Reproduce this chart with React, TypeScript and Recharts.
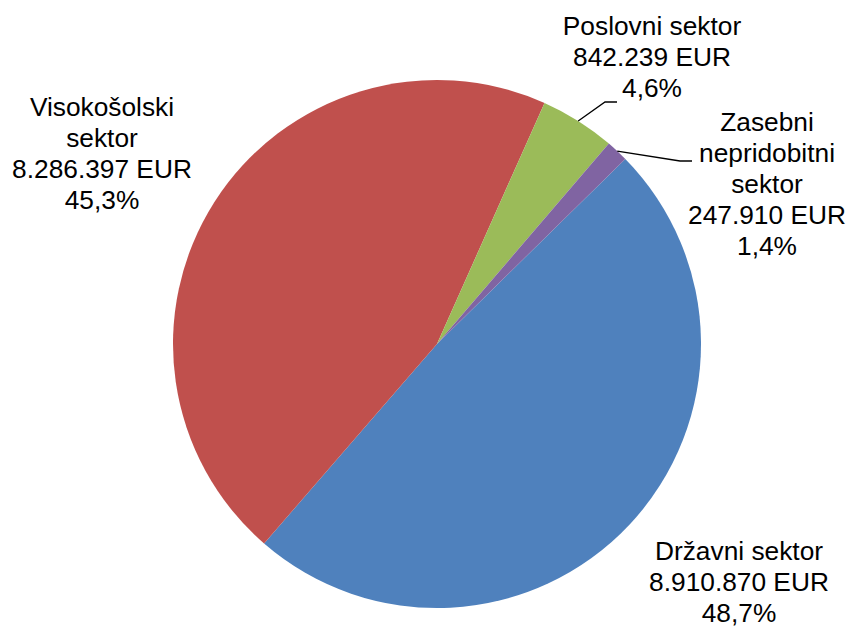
import { PieChart, Pie, Cell } from 'recharts';

const sectors = ['Državni sektor', 'Visokošolski sektor', 'Poslovni sektor', 'Zasebni nepridobitni sektor'];
const amounts = [8910870, 8286397, 842239, 247910];
const colors = ['#4F81BD', '#C0504D', '#9BBB59', '#8064A2'];

// label placement relative to pie centre (first baseline, centred text)
const labelLayout = [
  { dx: 302, dy: 216, wrap: false, line: null },
  { dx: -335, dy: -228, wrap: 'first', line: null },
  { dx: 215, dy: -309, wrap: false, line: [[168, -242], [180, -242]] },
  { dx: 330, dy: -213, wrap: 'all', line: [[243, -183], [255, -183]] },
];

const total = amounts.reduce((s, v) => s + v, 0);
const data = sectors.map((name, i) => ({ name, value: amounts[i] }));

const fmtEur = (v: number) => String(v).replace(/\B(?=(\d{3})+(?!\d))/g, '.') + ' EUR';
const fmtPct = (v: number) => ((v / total) * 100).toFixed(1).replace('.', ',') + '%';

const RAD = Math.PI / 180;
const LINE_H = 31;

const renderLabel = (props: any) => {
  const { cx, cy, midAngle, outerRadius, index } = props;
  const lay = labelLayout[index];
  const name = sectors[index];
  let nameLines: string[] = [name];
  if (lay.wrap === 'all') nameLines = name.split(' ');
  if (lay.wrap === 'first') {
    const k = name.indexOf(' ');
    nameLines = [name.slice(0, k), name.slice(k + 1)];
  }
  const lines = [...nameLines, fmtEur(amounts[index]), fmtPct(amounts[index])];
  const x = cx + lay.dx;
  const y = cy + lay.dy;

  let leader = null;
  if (lay.line) {
    const sx = cx + outerRadius * Math.cos(-midAngle * RAD);
    const sy = cy + outerRadius * Math.sin(-midAngle * RAD);
    const pts = [[sx, sy], ...lay.line.map(([px, py]) => [cx + px, cy + py])];
    leader = (
      <polyline
        points={pts.map((p) => p.join(',')).join(' ')}
        fill="none"
        stroke="#000"
        strokeWidth={1.3}
      />
    );
  }

  return (
    <g key={`lbl-${index}`}>
      {leader}
      <text
        x={x}
        y={y}
        textAnchor="middle"
        fill="#000"
        fontSize={26.3}
        fontFamily="'Liberation Sans', Arial, sans-serif"
      >
        {lines.map((t, i) => (
          <tspan key={i} x={x} y={y + i * LINE_H}>
            {t}
          </tspan>
        ))}
      </text>
    </g>
  );
};

export default function App() {
  return (
    <div style={{ position: 'absolute', left: 0, top: 0, width: 850, height: 626, background: '#fff' }}>
      <PieChart width={850} height={626} margin={{ top: 0, right: 0, bottom: 0, left: 0 }}>
        <Pie
          data={data}
          dataKey="value"
          nameKey="name"
          cx={437}
          cy={344}
          outerRadius={264}
          startAngle={44.5}
          endAngle={-315.5}
          stroke="none"
          label={renderLabel}
          labelLine={false}
          isAnimationActive={false}
        >
          {data.map((d, i) => (
            <Cell key={d.name} fill={colors[i]} />
          ))}
        </Pie>
      </PieChart>
    </div>
  );
}
